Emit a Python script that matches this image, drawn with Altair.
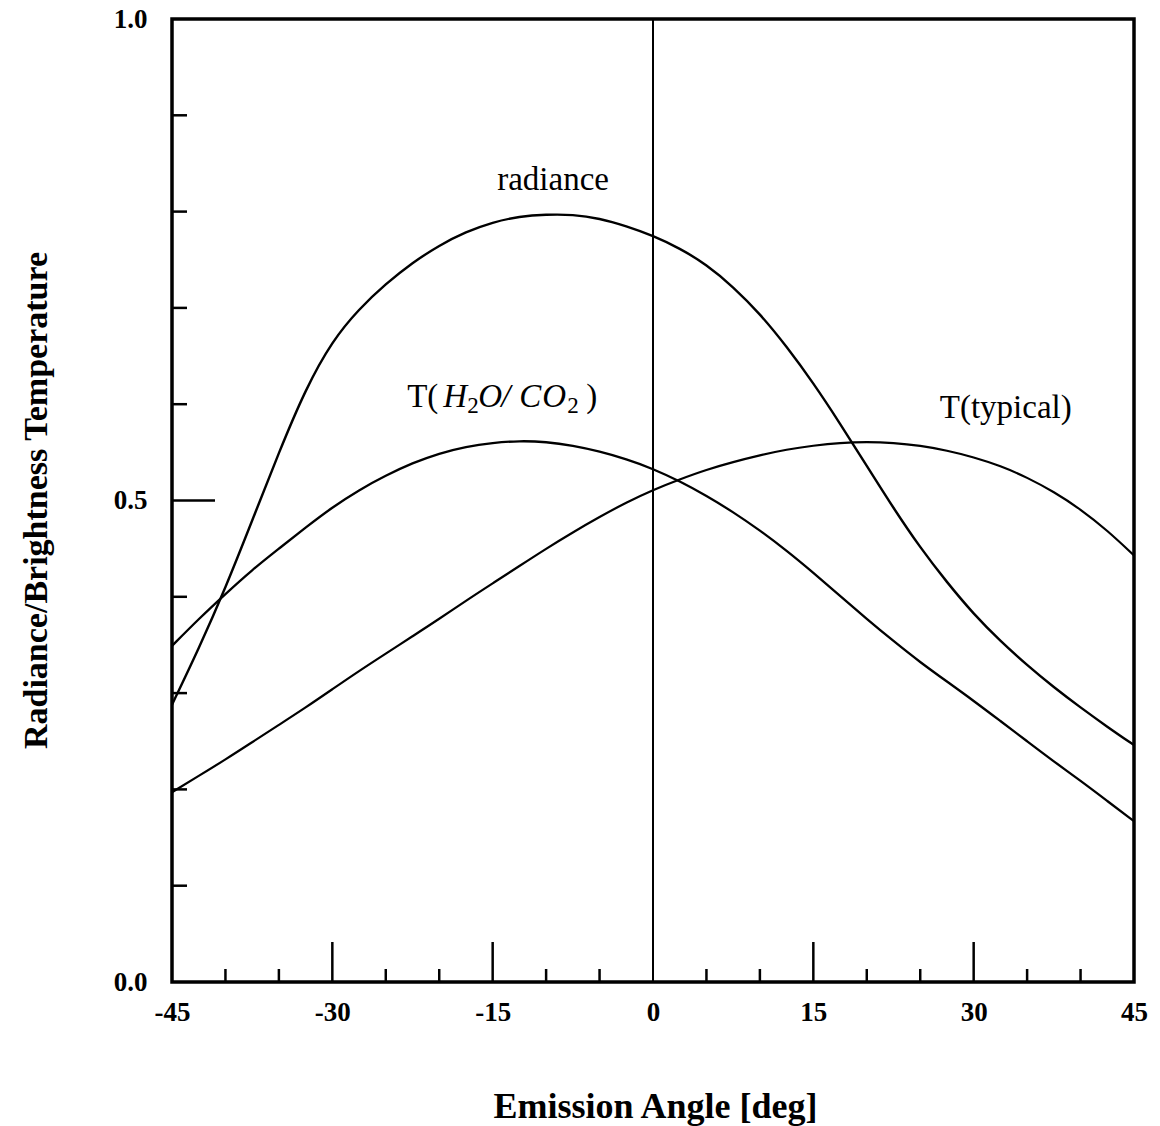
import altair as alt
import pandas as pd

# Emission angle grid [deg]
angles = [-45, -42.5, -40, -37.5, -35, -32.5, -30, -27.5, -25, -22.5, -20, -17.5, -15,
          -12.5, -10, -7.5, -5, -2.5, 0, 2.5, 5, 7.5, 10, 12.5, 15, 17.5, 20, 22.5,
          25, 27.5, 30, 32.5, 35, 37.5, 40, 42.5, 45]

radiance = [0.288, 0.346, 0.409, 0.479, 0.550, 0.616, 0.666, 0.699, 0.725, 0.747,
            0.765, 0.779, 0.789, 0.795, 0.797, 0.797, 0.793, 0.785, 0.775, 0.762,
            0.745, 0.722, 0.694, 0.660, 0.622, 0.580, 0.536, 0.492, 0.451, 0.415,
            0.382, 0.354, 0.329, 0.306, 0.285, 0.265, 0.246]

t_h2o_co2 = [0.349, 0.377, 0.403, 0.428, 0.450, 0.472, 0.493, 0.511, 0.526, 0.539,
             0.549, 0.556, 0.560, 0.562, 0.561, 0.557, 0.551, 0.543, 0.533, 0.520,
             0.505, 0.488, 0.469, 0.448, 0.425, 0.401, 0.377, 0.354, 0.332, 0.312,
             0.292, 0.271, 0.250, 0.229, 0.209, 0.188, 0.167]

t_typical = [0.197, 0.214, 0.231, 0.249, 0.267, 0.285, 0.304, 0.323, 0.341, 0.359,
             0.377, 0.396, 0.414, 0.432, 0.450, 0.467, 0.483, 0.498, 0.511, 0.522,
             0.532, 0.540, 0.547, 0.553, 0.557, 0.560, 0.561, 0.560, 0.557, 0.552,
             0.545, 0.536, 0.524, 0.509, 0.491, 0.469, 0.443]

series_names = ["radiance", "T(H2O/CO2)", "T(typical)"]

x_labels = [-45, -30, -15, 0, 15, 30, 45]
y_labels = [0.0, 0.5, 1.0]
x_major_ticks = [-30, -15, 15, 30]
x_minor_ticks = [-40, -35, -25, -20, -10, -5, 5, 10, 20, 25, 35, 40]
y_major_ticks = [0.5]
y_minor_ticks = [0.1, 0.2, 0.3, 0.4, 0.6, 0.7, 0.8, 0.9]

W, H = 962, 963
SERIF = "Liberation Serif"

rows = []
for name, vals in zip(series_names, [radiance, t_h2o_co2, t_typical]):
    for a, v in zip(angles, vals):
        rows.append({"angle": a, "value": v, "series": name})
curves = pd.DataFrame(rows)

xscale = alt.Scale(domain=[-45, 45], nice=False, zero=False)
yscale = alt.Scale(domain=[0, 1], nice=False, zero=False)

xaxis = alt.Axis(values=x_labels, title="Emission Angle [deg]", grid=False, domain=False,
                 ticks=False, labelFont=SERIF, labelFontWeight="bold", labelFontSize=27,
                 labelColor="black", labelPadding=17, labelFlush=False, labelOverlap=False,
                 labelExpr="'' + datum.value",
                 titleFont=SERIF, titleFontSize=36, titleFontWeight="bold", titleColor="black",
                 titleX=483, titleY=135, titleBaseline="alphabetic", titleAlign="center")
yaxis = alt.Axis(values=y_labels, title="Radiance/Brightness Temperature", grid=False,
                 domain=False, ticks=False, format=".1f", labelFont=SERIF,
                 labelFontWeight="bold", labelFontSize=27, labelColor="black",
                 labelPadding=25, labelFlush=False, labelOverlap=False,
                 titleFont=SERIF, titleFontSize=34, titleFontWeight="bold", titleColor="black",
                 titleX=-126, titleY=481, titleAngle=270, titleBaseline="alphabetic",
                 titleAlign="center")

X = alt.X("angle:Q", scale=xscale, axis=xaxis)
Y = alt.Y("value:Q", scale=yscale, axis=yaxis)

lines = alt.Chart(curves).mark_line(color="black", interpolate="basis").encode(
    x=X, y=Y, detail="series:N",
    strokeWidth=alt.StrokeWidth("series:N",
                                scale=alt.Scale(domain=series_names, range=[2.4, 2.2, 2.9]),
                                legend=None),
)

zero_line = alt.Chart(pd.DataFrame({"angle": [0]})).mark_rule(
    color="black", strokeWidth=2).encode(x=X)


def x_ticks(vals, length):
    return alt.Chart(pd.DataFrame({"angle": vals})).mark_rule(
        color="black", strokeWidth=2.5).encode(
        x=X, y=alt.value(H), y2=alt.value(H - length))


def y_ticks(vals, length):
    return alt.Chart(pd.DataFrame({"value": vals})).mark_rule(
        color="black", strokeWidth=2.5).encode(
        y=Y, x=alt.value(0), x2=alt.value(length))


def label(text, angle, value, dx=0, dy=0, size=33, style="normal", align="left"):
    return alt.Chart(pd.DataFrame({"angle": [angle], "value": [value], "t": [text]})).mark_text(
        font=SERIF, fontSize=size, fontStyle=style, color="black", align=align,
        baseline="alphabetic", dx=dx, dy=dy).encode(x=X, y=Y, text="t:N")


# curve annotations
ann_radiance = label("radiance", -9.35, 0.822, align="center")
ann_typical = label("T(typical)", 33.0, 0.586, align="center")
h_a, h_v = -23.0, 0.597
ann_h2o = [
    label("T(", h_a, h_v),
    label("H", h_a, h_v, dx=36, style="italic"),
    label("2", h_a, h_v, dx=60, dy=6, size=23),
    label("O", h_a, h_v, dx=71, style="italic"),
    label("/", h_a, h_v, dx=94, style="italic"),
    label("C", h_a, h_v, dx=112, style="italic"),
    label("O", h_a, h_v, dx=135, style="italic"),
    label("2", h_a, h_v, dx=160, dy=6, size=23),
    label(")", h_a, h_v, dx=179),
]

chart = alt.layer(
    zero_line,
    x_ticks(x_major_ticks, 40), x_ticks(x_minor_ticks, 13),
    y_ticks(y_major_ticks, 43), y_ticks(y_minor_ticks, 15),
    lines, ann_radiance, ann_typical, *ann_h2o,
).properties(
    width=W, height=H,
    autosize=alt.AutoSizeParams(type="none"),
    padding={"left": 172, "top": 19, "right": 26, "bottom": 144},
    background="white",
).configure_view(
    stroke="black", strokeWidth=3.5
)

chart.save("out.html", embed_options={"renderer": "svg", "actions": False})
